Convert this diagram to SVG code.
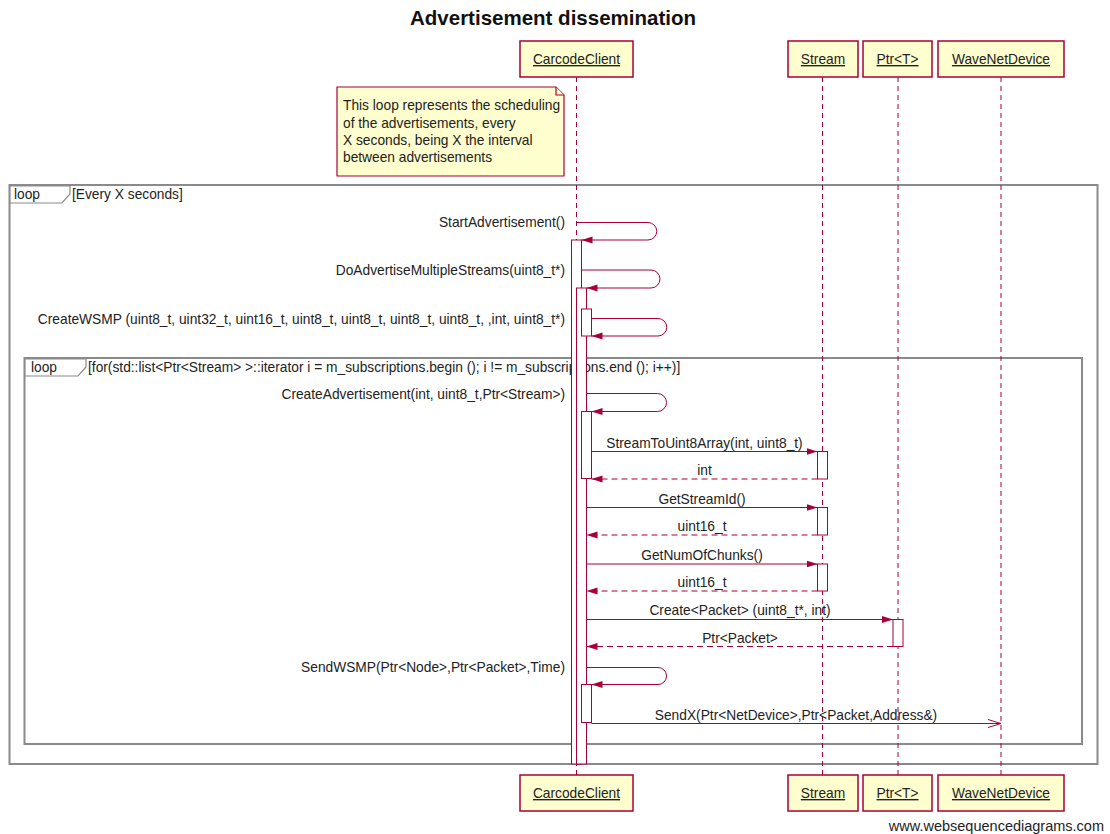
<svg xmlns="http://www.w3.org/2000/svg" width="1110" height="834" viewBox="0 0 1110 834">
  <style>
    text { font-family: "Liberation Sans", Arial, sans-serif; fill: #222; }
    .title { font-size: 20.5px; font-weight: bold; text-anchor: middle; fill: #111; }
    .pbox { fill: #fefece; stroke: #a80036; stroke-width: 1.5; }
    .pname { font-size: 13.75px; text-anchor: middle; text-decoration: underline; }
    .life { stroke: #a80036; stroke-width: 1; stroke-dasharray: 5,4; fill: none; }
    .bar { fill: #ffffff; stroke: #a80036; stroke-width: 1; }
    .msg { stroke: #a80036; stroke-width: 1; fill: none; }
    .ret { stroke-dasharray: 6,4; }
    .lbl { font-size: 13.75px; }
    .mid { text-anchor: middle; }
    .end { text-anchor: end; }
    .frame { fill: none; stroke: #8a8a8a; stroke-width: 2; }
    .tab { fill: #ffffff; stroke: #8a8a8a; stroke-width: 1.2; }
    .note { fill: #fefece; stroke: #a80036; stroke-width: 1.2; }
    .notetext { font-size: 13.75px; }
  </style>
  <defs>
    <marker id="sync" markerUnits="userSpaceOnUse" markerWidth="12" markerHeight="8" refX="11" refY="4" orient="auto">
      <path d="M0,0.5 L11,4 L0,7.5 z" fill="#a80036"/>
    </marker>
    <marker id="async" markerUnits="userSpaceOnUse" markerWidth="14" markerHeight="10" refX="13" refY="5" orient="auto">
      <path d="M0,1 L13,5 L0,9" fill="none" stroke="#a80036" stroke-width="1"/>
    </marker>
  </defs>

  <text class="title" x="553" y="25">Advertisement dissemination</text>

  <!-- combined fragments -->
  <g id="loop-outer">
    <rect class="frame" x="9.5" y="185" width="1088" height="579"/>
    <path class="tab" d="M10,186 H70 V194 L62,203 H10 z"/>
    <text class="lbl" x="14" y="198.5">loop</text>
    <text class="lbl" x="72" y="198.5">[Every X seconds]</text>
  </g>
  <g id="loop-inner">
    <rect class="frame" x="24.5" y="358" width="1057.5" height="386"/>
    <path class="tab" d="M25,359 H86 V367 L78,376 H25 z"/>
    <text class="lbl" x="31" y="371.5">loop</text>
    <text class="lbl" x="88" y="371.5">[for(std::list&lt;Ptr&lt;Stream&gt; &gt;::iterator i = m_subscriptions.begin (); i != m_subscriptions.end (); i++)]</text>
  </g>

  <!-- participants -->
  <g id="CarcodeClient">
    <line class="life" x1="576.5" y1="77" x2="576.5" y2="775"/>
    <rect class="pbox" x="520" y="41" width="113" height="36"/>
    <text class="pname" x="576.5" y="64">CarcodeClient</text>
    <rect class="pbox" x="520" y="775" width="113" height="36"/>
    <text class="pname" x="576.5" y="798">CarcodeClient</text>
  </g>
  <g id="Stream">
    <line class="life" x1="822.5" y1="77" x2="822.5" y2="775"/>
    <rect class="pbox" x="788" y="41" width="70" height="36"/>
    <text class="pname" x="823" y="64">Stream</text>
    <rect class="pbox" x="788" y="775" width="70" height="36"/>
    <text class="pname" x="823" y="798">Stream</text>
  </g>
  <g id="PtrT">
    <line class="life" x1="898" y1="77" x2="898" y2="775"/>
    <rect class="pbox" x="863" y="41" width="69" height="36"/>
    <text class="pname" x="897.5" y="64">Ptr&lt;T&gt;</text>
    <rect class="pbox" x="863" y="775" width="69" height="36"/>
    <text class="pname" x="897.5" y="798">Ptr&lt;T&gt;</text>
  </g>
  <g id="WaveNetDevice">
    <line class="life" x1="1001" y1="77" x2="1001" y2="775"/>
    <rect class="pbox" x="938" y="41" width="126" height="36"/>
    <text class="pname" x="1001" y="64">WaveNetDevice</text>
    <rect class="pbox" x="938" y="775" width="126" height="36"/>
    <text class="pname" x="1001" y="798">WaveNetDevice</text>
  </g>

  <!-- note -->
  <g id="note">
    <path class="note" d="M337,87 H556 L564,95 V176 H337 z"/>
    <path class="note" d="M556,87 V95 H564" fill="none"/>
    <text class="notetext" x="343" y="110">This loop represents the scheduling</text>
    <text class="notetext" x="343" y="127.5">of the advertisements, every</text>
    <text class="notetext" x="343" y="144.5">X seconds, being X the interval</text>
    <text class="notetext" x="343" y="162">between advertisements</text>
  </g>

  <!-- activation bars -->
  <g id="activations">
    <rect class="bar" x="571.5" y="240" width="10" height="524"/>
    <rect class="bar" x="576.5" y="288" width="10" height="476"/>
    <rect class="bar" x="581.5" y="309" width="10" height="27"/>
    <rect class="bar" x="581.5" y="411.5" width="10" height="67"/>
    <rect class="bar" x="581.5" y="684.5" width="10" height="38"/>
    <rect class="bar" x="817.5" y="451.5" width="10" height="27.5"/>
    <rect class="bar" x="817.5" y="507.5" width="10" height="27.5"/>
    <rect class="bar" x="817.5" y="564" width="10" height="27"/>
    <rect class="bar" x="893" y="619.5" width="10" height="27"/>
  </g>

  <!-- messages -->
  <g id="connectors">
    <path class="msg" marker-end="url(#sync)" d="M576.5,222.5 H648 A8.75,8.75 0 0 1 648,240 H581.5"/>
    <path class="msg" marker-end="url(#sync)" d="M581.5,270 H651 A9,9 0 0 1 651,288 H586.5"/>
    <path class="msg" marker-end="url(#sync)" d="M591.5,318.5 H658 A8.75,8.75 0 0 1 658,336 H591.5"/>
    <path class="msg" marker-end="url(#sync)" d="M586.5,393.5 H657.5 A9,9 0 0 1 657.5,411.5 H591.5"/>
    <path class="msg" marker-end="url(#sync)" d="M591.5,451.5 H817.5"/>
    <path class="msg ret" marker-end="url(#sync)" d="M817.5,479 H591.5"/>
    <path class="msg" marker-end="url(#sync)" d="M586.5,507.5 H817.5"/>
    <path class="msg ret" marker-end="url(#sync)" d="M817.5,535 H586.5"/>
    <path class="msg" marker-end="url(#sync)" d="M586.5,564 H817.5"/>
    <path class="msg ret" marker-end="url(#sync)" d="M817.5,591 H586.5"/>
    <path class="msg" marker-end="url(#sync)" d="M586.5,619.5 H893"/>
    <path class="msg ret" marker-end="url(#sync)" d="M893,646.5 H586.5"/>
    <path class="msg" marker-end="url(#sync)" d="M586.5,667.5 H658 A8.5,8.5 0 0 1 658,684.5 H591.5"/>
    <path class="msg" marker-end="url(#async)" d="M591.5,723.5 H1001"/>
  </g>

  <!-- message labels -->
  <g id="labels">
    <text class="lbl end" x="565" y="227">StartAdvertisement()</text>
    <text class="lbl end" x="565" y="274.5">DoAdvertiseMultipleStreams(uint8_t*)</text>
    <text class="lbl end" x="565" y="323.5">CreateWSMP (uint8_t, uint32_t, uint16_t, uint8_t, uint8_t, uint8_t, uint8_t, ,int, uint8_t*)</text>
    <text class="lbl end" x="565" y="398.5">CreateAdvertisement(int, uint8_t,Ptr&lt;Stream&gt;)</text>
    <text class="lbl mid" x="704.5" y="447.5">StreamToUint8Array(int, uint8_t)</text>
    <text class="lbl mid" x="704.5" y="475">int</text>
    <text class="lbl mid" x="702" y="503.5">GetStreamId()</text>
    <text class="lbl mid" x="702" y="531">uint16_t</text>
    <text class="lbl mid" x="702" y="560">GetNumOfChunks()</text>
    <text class="lbl mid" x="702" y="587">uint16_t</text>
    <text class="lbl mid" x="740" y="615">Create&lt;Packet&gt; (uint8_t*, int)</text>
    <text class="lbl mid" x="740" y="642.5">Ptr&lt;Packet&gt;</text>
    <text class="lbl end" x="565" y="672">SendWSMP(Ptr&lt;Node&gt;,Ptr&lt;Packet&gt;,Time)</text>
    <text class="lbl mid" x="796" y="719.5">SendX(Ptr&lt;NetDevice&gt;,Ptr&lt;Packet,Address&amp;)</text>
  </g>

  <text x="1104" y="831" font-size="14.5" text-anchor="end" fill="#222">www.websequencediagrams.com</text>
</svg>
